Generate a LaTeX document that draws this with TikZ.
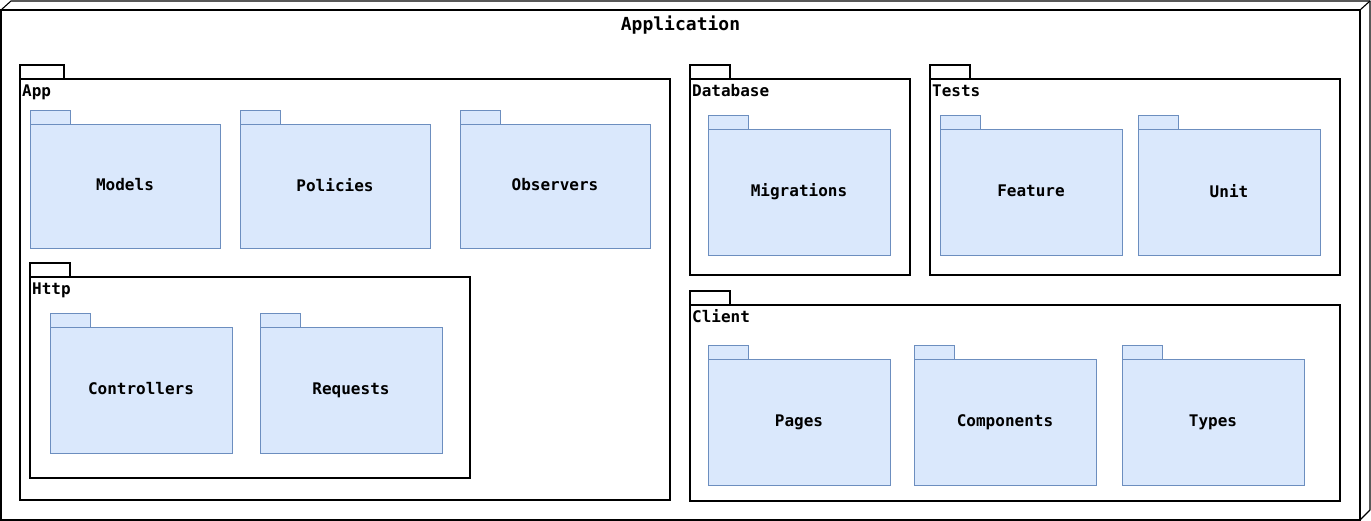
\documentclass[tikz,border=0pt]{standalone}
\usepackage{fontspec}
\setmonofont{DejaVu Sans Mono}
\usetikzlibrary{positioning}
\definecolor{PkgFill}{HTML}{DAE8FC}
\definecolor{PkgLine}{HTML}{6C8EBF}

\begin{document}
\begin{tikzpicture}[x=1pt, y=-1pt,
  framebox/.style={draw=black, fill=white, line width=1.1pt, anchor=north west, inner sep=0pt, outer sep=0pt},
  pkgbox/.style={draw=PkgLine, fill=PkgFill, line width=0.9pt, anchor=north west, inner sep=0pt, outer sep=0pt,
    font=\ttfamily\bfseries\fontsize{16}{19}\selectfont},
  frametab/.style={draw=black, fill=white, line width=1.1pt, minimum height=14pt, inner sep=0pt, outer sep=0pt},
  pkgtab/.style={draw=PkgLine, fill=PkgFill, line width=0.9pt, minimum width=40pt, minimum height=14pt, inner sep=0pt, outer sep=0pt},
  pkglabel/.style={anchor=base west, inner sep=0pt, font=\ttfamily\bfseries\fontsize{16}{19}\selectfont}]
  \useasboundingbox (0,0) rectangle (1371,521);

  % outer node box
  \node[framebox, minimum width=1359pt, minimum height=510pt] (application) at (1,10) {};
  \draw[line width=1.1pt, line join=round] (application.north west) -- (11,1) -- (1370,1) -- (1370,510) -- (application.south east);
  \draw[line width=1.1pt] (application.north east) -- (1370,1);
  \node[font=\ttfamily\bfseries\fontsize{18}{21}\selectfont, inner sep=0pt] (title) at ([shift={(0,15)}]application.north) {Application};

  % containers
  \foreach \id/\lbl/\px/\py/\w/\h/\t in {app/App/20/79/650/421/44, http/Http/30/277/440/201/40,
      database/Database/690/79/220/196/40, tests/Tests/930/79/410/196/40, client/Client/690/305/650/196/40} {
    \node[framebox, minimum width=\w pt, minimum height=\h pt] (\id) at (\px,\py) {};
    \node[frametab, minimum width=\t pt, above right=0pt and 0pt of \id.north west] (\id-tab) {};
    \node[pkglabel] (\id-label) at ([shift={(2,18)}]\id.north west) {\lbl};
  }

  % packages
  \foreach \id/\px/\py/\w/\h in {Models/30/124/190/124, Policies/240/124/190/124, Observers/460/124/190/124,
      Controllers/50/327/182/126, Requests/260/327/182/126,
      Migrations/708/129/182/126, Feature/940/129/182/126, Unit/1138/129/182/126,
      Pages/708/359/182/126, Components/914/359/182/126, Types/1122/359/182/126} {
    \node[pkgbox, minimum width=\w pt, minimum height=\h pt] (\id) at (\px,\py) {\raisebox{3pt}{\id}};
    \node[pkgtab, above right=0pt and 0pt of \id.north west] (\id-tab) {};
  }
\end{tikzpicture}
\end{document}
